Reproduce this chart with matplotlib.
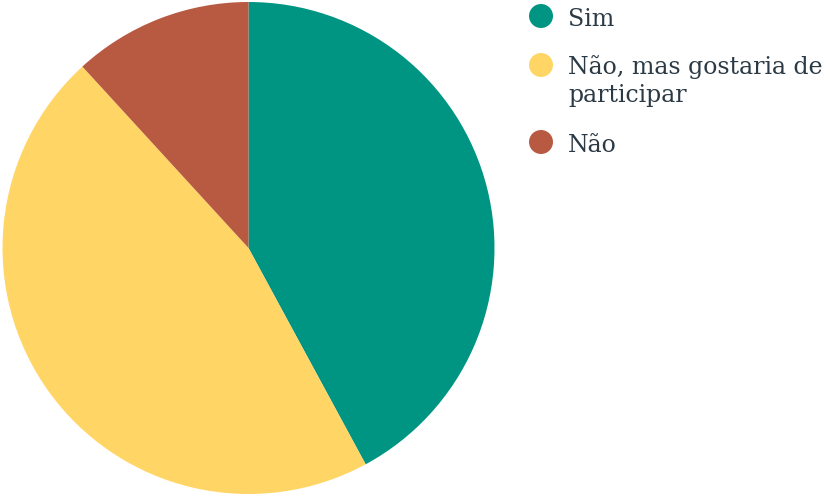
import matplotlib
matplotlib.use("Agg")
import matplotlib.pyplot as plt
from matplotlib.patches import Ellipse

labels = ["Sim", "Não, mas gostaria de\nparticipar", "Não"]
values = [42.1, 46.1, 11.8]
colors = ["#009483", "#FFD666", "#B85942"]

W, H = 830, 497
fig = plt.figure(figsize=(W / 100, H / 100), dpi=100)
ax = fig.add_axes([2.5 / W, 3 / H, 492 / W, 492 / H])
ax.pie(values, colors=colors, startangle=90, counterclock=False, radius=1,
       wedgeprops=dict(linewidth=0))
ax.set_xlim(-1, 1)
ax.set_ylim(-1, 1)
ax.set_aspect("auto")
ax.axis("off")

text_color = "#2B3A45"
marker_y = [16, 65, 142]
baselines = [26, 74, 151.7]
for lab, col, my, by in zip(labels, colors, marker_y, baselines):
    fig.patches.append(Ellipse((541 / W, 1 - my / H), 24 / W, 24 / H,
                               transform=fig.transFigure,
                               facecolor=col, edgecolor="none"))
    lines = lab.split("\n")
    for i, ln in enumerate(lines):
        fig.text(568 / W, 1 - (by + i * 27.7) / H, ln, fontsize=17,
                 family="DejaVu Serif", color=text_color, va="baseline", ha="left")

fig.savefig("out.png", dpi=100)
